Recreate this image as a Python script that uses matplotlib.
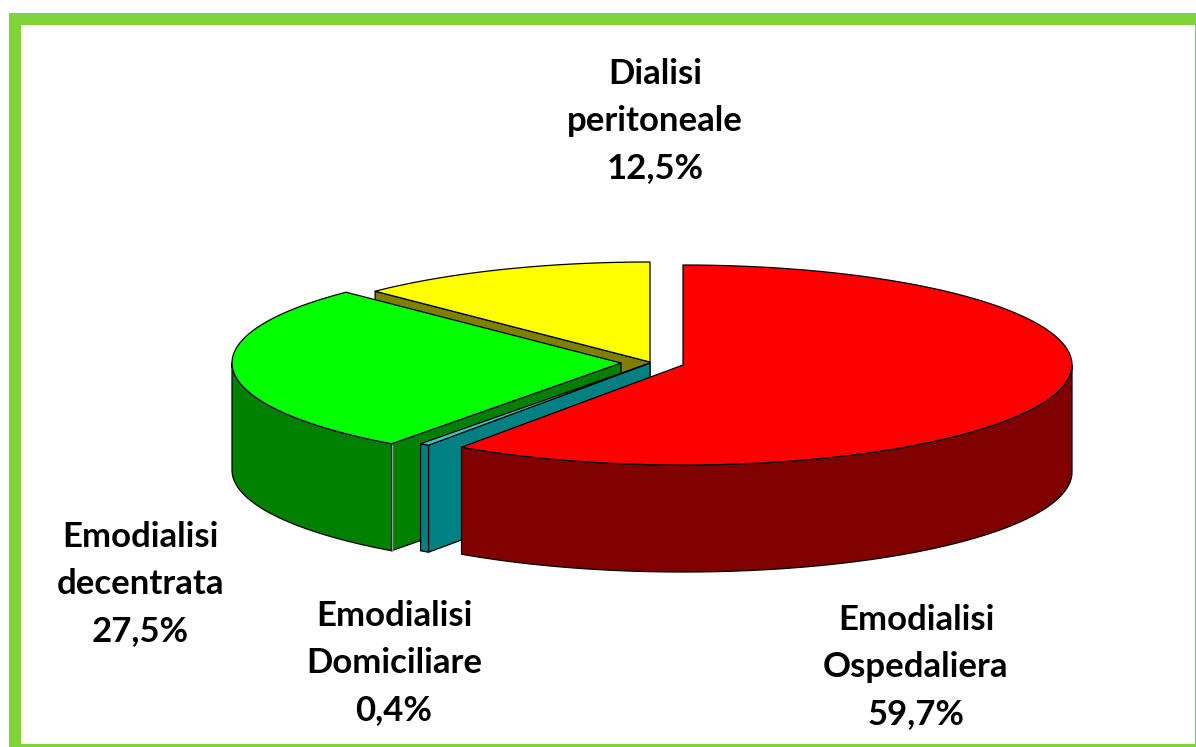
import numpy as np
import matplotlib
matplotlib.use("Agg")
import matplotlib.pyplot as plt
from matplotlib.patches import Polygon, Rectangle

# Data (clockwise from 12 o'clock)
names = ["Emodialisi\nOspedaliera", "Emodialisi\nDomiciliare", "Emodialisi\ndecentrata", "Dialisi\nperitoneale"]
shares = [59.7, 0.4, 27.5, 12.5]
labels_pct = ["59,7%", "0,4%", "27,5%", "12,5%"]

# Styling and layout
top_cols = ["#FF0000", "#33CCCC", "#00FF00", "#FFFF00"]
side_cols = ["#800000", "#008080", "#008000", "#808000"]
apex_x = [683, 650, 621, 650]
apex_y = [365, 363, 363, 362]
label_x = [916, 394, 140, 655]
label_y = [667, 663, 584, 121]
RX, RY, DEPTH = 389, 100, 107
BORDER = "#7FD33A"

plt.rcParams["font.family"] = ["Lato", "DejaVu Sans"]
fig = plt.figure(figsize=(11.96, 7.47), dpi=100)
ax = fig.add_axes([0, 0, 1, 1])
ax.set_xlim(0, 1196)
ax.set_ylim(747, 0)
ax.axis("off")

ax.add_patch(Rectangle((9, 13), 1187, 734, fc=BORDER, ec="none", zorder=0))
ax.add_patch(Rectangle((21, 25), 1174, 719, fc="white", ec="none", zorder=0.1))


def rim(cx, cy, a1, a2, dy=0):
    t = np.radians(np.linspace(a1, a2, max(int(abs(a2 - a1) * 2), 2)))
    return np.column_stack([cx + RX * np.sin(t), cy - RY * np.cos(t) + dy])


def poly(points, color, z):
    ax.add_patch(Polygon(points, closed=True, fc=color, ec="black", lw=0.9,
                         joinstyle="round", zorder=z))


edges = np.concatenate([[0], np.cumsum(shares)]) / sum(shares) * 360
spans = list(zip(edges[:-1], edges[1:]))

# Paint from the back slice to the front slice
order = [3, 2, 1, 0]
z = 1
for i in order:
    a1, a2 = spans[i]
    cx, cy = apex_x[i], apex_y[i]
    # cut face that looks at the viewer (all but the front slice)
    if i != 0:
        p = rim(cx, cy, a1, a1 + 0.001)[0]
        poly([(cx, cy), p, (p[0], p[1] + DEPTH), (cx, cy + DEPTH)], side_cols[i], z)
        z += 1
    # outer wall, front half only
    w1, w2 = max(a1, 90), min(a2, 270)
    if w1 < w2:
        up = rim(cx, cy, w1, w2)
        low = rim(cx, cy, w1, w2, DEPTH)
        poly(np.vstack([up, low[::-1]]), side_cols[i], z)
        z += 1
    # top face
    poly(np.vstack([[(cx, cy)], rim(cx, cy, a1, a2)]), top_cols[i], z)
    z += 1

# Pale seam at the near corner of the green slice
p = rim(apex_x[2], apex_y[2], spans[2][0], spans[2][0] + 0.001)[0]
ax.plot([p[0], p[0]], [p[1] + 1, p[1] + DEPTH], color="#9a9a9a", lw=1.0, zorder=z)
z += 1

for name, pct, x, y in zip(names, labels_pct, label_x, label_y):
    ax.text(x, y, f"{name}\n{pct}", ha="center", va="center", fontsize=25,
            fontweight="bold", color="black", linespacing=1.56, zorder=z)

fig.savefig("out.png", dpi=100)
